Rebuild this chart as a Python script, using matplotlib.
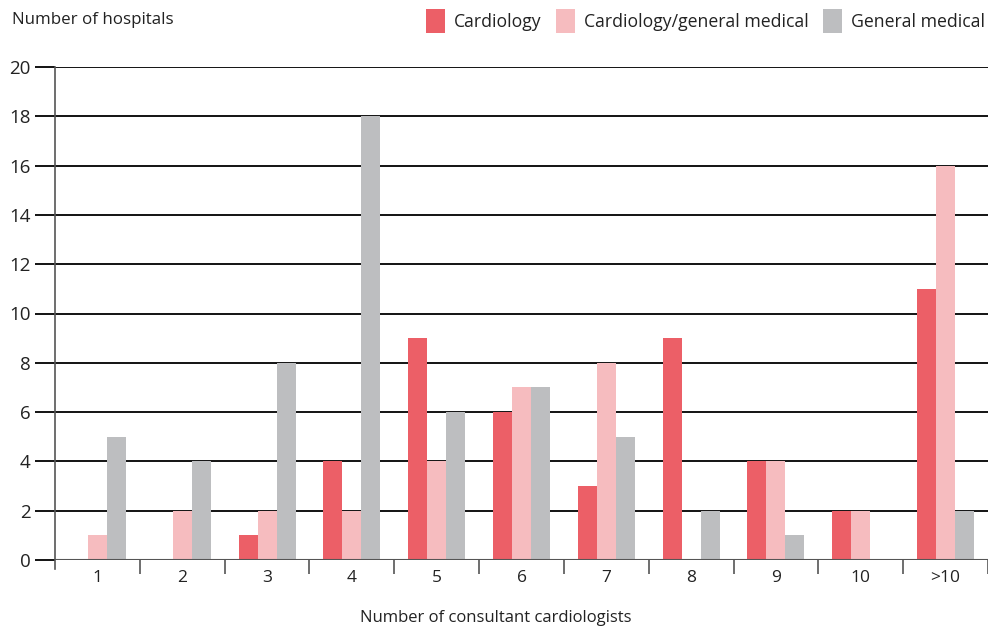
import matplotlib
matplotlib.use("Agg")
import matplotlib.pyplot as plt
import numpy as np
from matplotlib.patches import Patch

categories = ["1", "2", "3", "4", "5", "6", "7", "8", "9", "10", ">10"]
cardiology = [0, 0, 1, 4, 9, 6, 3, 9, 4, 2, 11]
cardio_general = [1, 2, 2, 2, 4, 7, 8, 0, 4, 2, 16]
general = [5, 4, 8, 18, 6, 7, 5, 2, 1, 0, 2]
series_names = ["Cardiology", "Cardiology/general medical", "General medical"]
colors = ["#EC5F67", "#F6BCBF", "#BDBEC0"]

plt.rcParams['font.family'] = ['Open Sans', 'DejaVu Sans']
W, H = 988, 627
fig = plt.figure(figsize=(W/100, H/100), dpi=100)
ax = fig.add_axes([55/W, 1-560/H, (988-55)/W, (560-67)/H])

x = np.arange(len(categories))
bw = 0.224
for i, (vals, c) in enumerate(zip([cardiology, cardio_general, general], colors)):
    ax.bar(x + (i-1)*bw, vals, width=bw, color=c, zorder=3, linewidth=0)

ax.set_xlim(-0.5, len(categories)-0.5)
ax.set_ylim(0, 20)
ax.set_yticks(range(0, 21, 2))
for yv in range(2, 21, 2):
    ax.axhline(yv, color="black", lw=1.3, zorder=1)
ax.axhline(0, color="#555555", lw=1.5, zorder=4)

for s in ["top", "right"]:
    ax.spines[s].set_visible(False)
ax.spines["bottom"].set_visible(False)
ax.spines["left"].set_color("#555555")
ax.spines["left"].set_linewidth(1.2)
ax.spines["left"].set_bounds(-0.35, 20)
ax.spines["left"].set_zorder(5)

ax.tick_params(axis="y", length=14.4, width=1.3, color="black", labelsize=13.5, labelcolor="#222222", pad=3)
ax.set_xticks(x)
ax.set_xticklabels(categories)
ax.tick_params(axis="x", which="major", length=0, labelsize=12.5, labelcolor="#222222", pad=7)
ax.set_xticks(np.arange(0.5, len(categories)-0.5+1, 1.0), minor=True)
ax.tick_params(axis="x", which="minor", length=10, width=1.2, color="#555555", direction="out")

fig.text(496/W, 1-618/H, "Number of consultant cardiologists", fontsize=12, color="#222222", va="center", ha="center")
fig.text(12/W, 1-20/H, "Number of hospitals", fontsize=12.2, color="#222222", va="center", ha="left")

handles = [Patch(facecolor=c, edgecolor="none") for c in colors]
fig.legend(handles, series_names, loc="upper right", bbox_to_anchor=(992/W, 1-2/H), ncol=3,
           frameon=False, fontsize=12.7, handlelength=1.1, handleheight=1.75, handletextpad=0.5,
           columnspacing=0.8, labelcolor="#222222", borderaxespad=0)

fig.savefig("out.png", dpi=100)
